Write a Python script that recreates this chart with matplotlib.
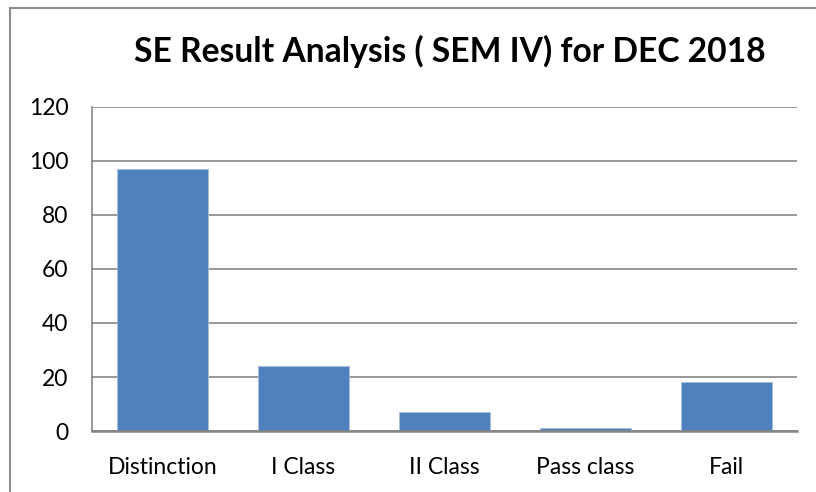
import matplotlib.pyplot as plt
from matplotlib.lines import Line2D

categories = ["Distinction", "I Class", "II Class", "Pass class", "Fail"]
values = [97, 24, 7, 1, 18]
yticks = [0, 20, 40, 60, 80, 100, 120]

plt.rcParams['font.family'] = ['Lato', 'DejaVu Sans']

W, H = 816, 492
fig = plt.figure(figsize=(W / 100, H / 100), dpi=100)

# plot area in pixels: left 92, right 797, top 107, bottom 431
ax = fig.add_axes([92 / W, 1 - 431 / H, (797 - 92) / W, (431 - 107) / H])
x = range(len(categories))
ax.bar(x, values, width=0.645, color="#4F81BD", edgecolor="#A7C0DE",
       linewidth=0.6, zorder=3)
ax.set_xlim(-0.5, len(categories) - 0.5)
ax.set_ylim(0, 120)
ax.set_yticks(yticks)
ax.set_xticks(list(x))
ax.set_xticklabels(categories)
ax.yaxis.grid(True, color="#868686", linewidth=1.2, zorder=0)
ax.tick_params(axis="both", length=0, labelsize=16.5, colors="black")
ax.tick_params(axis="x", pad=19)
ax.tick_params(axis="y", pad=17)
for s in ("top", "right"):
    ax.spines[s].set_visible(False)
ax.spines["left"].set_color("#868686")
ax.spines["bottom"].set_color("#868686")
ax.spines["left"].set_linewidth(1.2)
ax.spines["bottom"].set_linewidth(1.8)
ax.spines["bottom"].set_zorder(4)

fig.text(450 / W, 1 - 51 / H, "SE Result Analysis ( SEM IV) for DEC 2018",
         ha="center", va="center", fontsize=24.2, fontweight="bold")

# chart frame (only left and top edges visible in the crop)
fig.add_artist(Line2D([10 / W, 10 / W], [0, 1 - 8 / H], color="#8C8C8C", lw=1.5))
fig.add_artist(Line2D([10 / W, 1], [1 - 8 / H, 1 - 8 / H], color="#8C8C8C", lw=1.5))

fig.savefig("out.png", dpi=100)
